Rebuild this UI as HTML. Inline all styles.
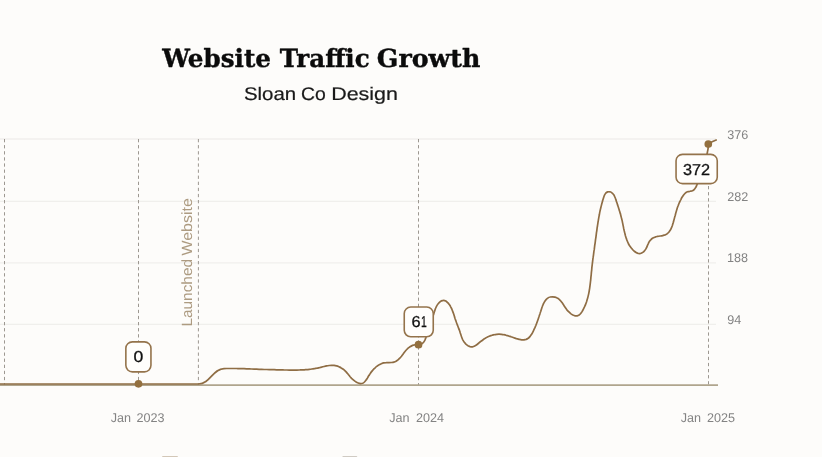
<!DOCTYPE html>
<html lang="en">
<head>
<meta charset="utf-8">
<title>Website Traffic Growth</title>
<style>
html,body{margin:0;padding:0;background:#fdfcfa;overflow:hidden}
body{width:822px;height:457px}
svg{display:block;will-change:transform}
text{font-family:"Liberation Sans",sans-serif;text-rendering:geometricPrecision}
.title{font-family:"DejaVu Serif","Liberation Serif",serif;font-weight:700;font-size:25px;fill:#0b0b0b;stroke:#0b0b0b;stroke-width:.4px;stroke-linejoin:round}
.sub{font-size:18.3px;fill:#1a1a1a;stroke:#1a1a1a;stroke-width:.2px}
.tick{font-size:12.6px;fill:#838383}
.lab{font-size:15.8px;fill:#111;font-weight:400;stroke:#111;stroke-width:.3px}
.anno{font-size:14.8px;fill:#ad9b81}
</style>
</head>
<body>
<svg width="822" height="457" viewBox="0 0 822 457">
<rect width="822" height="457" fill="#fdfcfa"/>
<line x1="0" x2="716" y1="139.0" y2="139.0" stroke="#f0efec" stroke-width="1.3"/>
<line x1="0" x2="716" y1="201.3" y2="201.3" stroke="#f0efec" stroke-width="1.3"/>
<line x1="0" x2="716" y1="262.9" y2="262.9" stroke="#f0efec" stroke-width="1.3"/>
<line x1="0" x2="716" y1="324.4" y2="324.4" stroke="#f0efec" stroke-width="1.3"/>
<line x1="4.5" x2="4.5" y1="139.0" y2="385" stroke="#9d9891" stroke-width="1" stroke-dasharray="3.3 2.8"/>
<line x1="138.5" x2="138.5" y1="139.0" y2="385" stroke="#9d9891" stroke-width="1" stroke-dasharray="3.3 2.8"/>
<line x1="198.4" x2="198.4" y1="139.0" y2="385" stroke="#9d9891" stroke-width="1" stroke-dasharray="3.3 2.8"/>
<line x1="418.5" x2="418.5" y1="139.0" y2="385" stroke="#9d9891" stroke-width="1" stroke-dasharray="3.3 2.8"/>
<line x1="708.5" x2="708.5" y1="186.0" y2="385" stroke="#9d9891" stroke-width="1" stroke-dasharray="3.3 2.8"/>
<line x1="0" x2="718" y1="385.2" y2="385.2" stroke="#afa58d" stroke-width="1.8"/>
<path d="M-2 384.0 L198.5 384.0C210 384.0 213 368.6 224 368.6C224.4 368.6 225.7 368.6 226.5 368.5C227.4 368.5 228.2 368.5 229.0 368.5C229.9 368.5 230.7 368.5 231.5 368.5C232.4 368.5 233.2 368.5 234.1 368.5C234.9 368.5 235.7 368.5 236.6 368.5C237.4 368.5 238.2 368.6 239.1 368.6C239.9 368.6 240.7 368.6 241.6 368.7C242.4 368.7 243.3 368.7 244.1 368.7C244.9 368.8 245.8 368.8 246.6 368.8C247.4 368.9 248.3 368.9 249.1 368.9C249.9 369.0 250.8 369.0 251.6 369.0C252.5 369.1 253.3 369.1 254.1 369.1C255.0 369.2 255.8 369.2 256.6 369.2C257.5 369.3 258.3 369.3 259.1 369.3C260.0 369.3 260.8 369.4 261.7 369.4C262.5 369.4 263.3 369.4 264.2 369.5C265.0 369.5 265.8 369.5 266.7 369.5C267.5 369.6 268.4 369.6 269.2 369.6C270.0 369.6 270.9 369.7 271.7 369.7C272.5 369.7 273.4 369.7 274.2 369.7C275.1 369.8 275.9 369.8 276.7 369.8C277.6 369.8 278.4 369.8 279.2 369.9C280.1 369.9 280.9 369.9 281.8 369.9C282.6 369.9 283.4 370.0 284.3 370.0C285.1 370.0 285.9 370.0 286.8 370.0C287.6 370.0 288.5 370.0 289.3 370.1C290.1 370.1 291.0 370.1 291.8 370.1C292.6 370.1 293.5 370.1 294.3 370.1C295.1 370.1 296.0 370.1 296.8 370.1C297.7 370.0 298.5 370.0 299.3 370.0C300.2 370.0 301.0 369.9 301.8 369.9C302.7 369.9 303.5 369.8 304.3 369.8C305.2 369.7 306.0 369.7 306.8 369.6C307.7 369.5 308.5 369.4 309.3 369.3C310.1 369.3 311.0 369.2 311.8 369.0C312.6 368.9 313.5 368.8 314.3 368.7C315.1 368.5 316.0 368.4 316.8 368.2C317.6 368.1 318.4 367.9 319.3 367.7C320.1 367.5 320.9 367.3 321.7 367.1C322.6 366.9 323.4 366.7 324.2 366.5C325.0 366.3 325.9 366.1 326.7 365.9C327.5 365.8 328.3 365.6 329.2 365.5C330.0 365.4 330.8 365.3 331.6 365.3C332.5 365.3 333.3 365.3 334.1 365.4C334.9 365.5 335.8 365.7 336.6 365.9C337.4 366.1 338.2 366.4 339.0 366.7C339.7 367.1 340.5 367.4 341.2 367.9C341.9 368.3 342.6 368.7 343.3 369.2C344.0 369.7 344.6 370.3 345.1 370.8C345.7 371.4 346.3 372.0 346.8 372.6C347.3 373.2 347.8 373.9 348.3 374.5C348.9 375.2 349.4 375.8 349.9 376.5C350.5 377.1 351.0 377.7 351.6 378.4C352.2 379.0 352.9 379.6 353.6 380.2C354.3 380.8 355.1 381.3 355.8 381.8C356.6 382.3 357.4 382.7 358.2 383.0C359.0 383.3 359.8 383.5 360.6 383.6C361.3 383.6 362.0 383.5 362.7 383.3C363.3 383.0 363.9 382.6 364.5 382.0C365.0 381.5 365.6 380.8 366.1 380.1C366.6 379.4 367.0 378.6 367.5 377.9C368.0 377.1 368.4 376.3 368.9 375.6C369.4 374.8 369.8 374.1 370.3 373.4C370.8 372.7 371.3 372.0 371.8 371.4C372.3 370.7 372.9 370.1 373.4 369.5C374.0 368.9 374.5 368.3 375.1 367.8C375.7 367.2 376.4 366.7 377.0 366.2C377.7 365.7 378.3 365.2 379.1 364.8C379.8 364.4 380.5 364.0 381.3 363.7C382.1 363.4 382.9 363.1 383.7 362.9C384.5 362.8 385.4 362.7 386.3 362.7C387.1 362.6 388.0 362.6 388.9 362.6C389.8 362.6 390.7 362.6 391.5 362.5C392.4 362.5 393.2 362.4 393.9 362.1C394.7 361.9 395.4 361.6 396.1 361.2C396.8 360.8 397.4 360.4 398.0 359.9C398.7 359.3 399.2 358.7 399.8 358.1C400.4 357.5 400.9 356.9 401.5 356.2C402.0 355.5 402.5 354.8 403.1 354.1C403.6 353.4 404.1 352.7 404.6 352.0C405.2 351.3 405.7 350.6 406.3 350.0C406.9 349.4 407.5 348.8 408.1 348.2C408.7 347.7 409.3 347.2 410.0 346.7C410.7 346.3 411.4 345.9 412.1 345.6C412.9 345.3 413.6 345.1 414.5 344.9C415.3 344.7 416.2 344.7 417.0 344.6C417.9 344.5 418.8 344.5 419.6 344.4C420.4 344.2 421.2 344.1 421.9 343.7C422.5 343.4 423.1 342.8 423.6 342.2C424.1 341.6 424.5 340.8 424.9 340.1C425.2 339.3 425.6 338.4 425.9 337.6C426.2 336.7 426.5 335.9 426.7 335.0C427.0 334.2 427.3 333.4 427.6 332.6C427.9 331.8 428.1 331.0 428.4 330.2C428.7 329.4 428.9 328.6 429.2 327.9C429.5 327.1 429.7 326.3 430.0 325.6C430.2 324.8 430.5 324.1 430.8 323.3C431.0 322.5 431.3 321.8 431.5 321.0C431.8 320.2 432.0 319.5 432.3 318.7C432.5 317.9 432.8 317.1 433.0 316.3C433.3 315.5 433.5 314.7 433.8 313.8C434.0 313.0 434.3 312.1 434.6 311.3C434.8 310.4 435.1 309.6 435.4 308.7C435.8 307.9 436.1 307.1 436.5 306.3C436.9 305.6 437.3 304.8 437.8 304.2C438.2 303.5 438.8 302.9 439.4 302.3C440.0 301.8 440.6 301.3 441.3 300.9C442.1 300.6 442.9 300.3 443.6 300.3C444.4 300.3 445.1 300.6 445.8 301.0C446.5 301.4 447.1 302.1 447.7 302.7C448.3 303.3 448.9 304.0 449.3 304.6C449.8 305.3 450.3 306.0 450.7 306.8C451.1 307.5 451.4 308.3 451.8 309.0C452.1 309.8 452.4 310.6 452.7 311.4C453.0 312.2 453.3 313.0 453.6 313.8C453.9 314.6 454.1 315.4 454.4 316.2C454.6 317.1 454.9 317.9 455.1 318.7C455.4 319.5 455.7 320.3 456.0 321.1C456.2 321.9 456.5 322.7 456.8 323.5C457.1 324.3 457.4 325.0 457.7 325.8C458.0 326.6 458.3 327.3 458.6 328.1C458.9 328.9 459.2 329.7 459.5 330.4C459.7 331.2 460.0 332.0 460.2 332.8C460.5 333.6 460.7 334.4 461.0 335.1C461.2 335.9 461.5 336.7 461.8 337.5C462.1 338.3 462.4 339.0 462.8 339.8C463.2 340.5 463.6 341.3 464.1 342.0C464.6 342.7 465.3 343.4 465.9 344.1C466.6 344.7 467.3 345.3 468.0 345.7C468.8 346.1 469.6 346.5 470.3 346.7C471.1 346.9 471.8 346.9 472.5 346.8C473.3 346.7 474.0 346.4 474.7 346.0C475.4 345.7 476.1 345.2 476.8 344.7C477.5 344.2 478.2 343.6 478.9 343.0C479.6 342.4 480.2 341.8 480.9 341.3C481.7 340.7 482.4 340.2 483.1 339.7C483.8 339.2 484.5 338.7 485.3 338.3C486.0 337.8 486.7 337.4 487.5 337.0C488.2 336.7 489.0 336.3 489.7 336.0C490.5 335.7 491.2 335.5 492.0 335.2C492.8 335.0 493.5 334.8 494.3 334.7C495.1 334.5 495.9 334.4 496.7 334.3C497.4 334.2 498.2 334.2 499.0 334.2C499.8 334.2 500.6 334.2 501.4 334.3C502.2 334.4 503.0 334.5 503.8 334.7C504.6 334.8 505.4 335.0 506.2 335.3C507.1 335.5 507.9 335.7 508.7 336.0C509.5 336.3 510.4 336.5 511.2 336.8C512.1 337.1 512.9 337.4 513.8 337.7C514.6 338.0 515.5 338.3 516.4 338.6C517.2 338.8 518.1 339.1 519.0 339.3C519.9 339.5 520.7 339.7 521.6 339.8C522.4 339.9 523.2 339.9 524.0 339.9C524.8 339.8 525.5 339.6 526.2 339.4C526.9 339.1 527.6 338.7 528.2 338.3C528.8 337.8 529.4 337.2 529.9 336.6C530.4 336.0 530.9 335.3 531.4 334.6C531.8 333.9 532.3 333.1 532.7 332.3C533.1 331.6 533.5 330.8 533.8 330.0C534.2 329.3 534.5 328.5 534.9 327.7C535.2 327.0 535.5 326.2 535.8 325.5C536.1 324.7 536.4 324.0 536.7 323.2C537.0 322.5 537.3 321.7 537.5 321.0C537.8 320.2 538.1 319.5 538.3 318.7C538.6 317.9 538.8 317.1 539.1 316.3C539.3 315.6 539.6 314.8 539.9 313.9C540.1 313.1 540.4 312.3 540.7 311.5C540.9 310.6 541.2 309.8 541.5 308.9C541.8 308.0 542.1 307.1 542.4 306.3C542.7 305.4 543.1 304.6 543.5 303.7C543.8 302.9 544.2 302.1 544.7 301.4C545.2 300.7 545.6 300.0 546.2 299.5C546.7 298.9 547.3 298.3 548.0 297.9C548.6 297.5 549.3 297.2 550.1 297.0C550.8 296.8 551.7 296.8 552.5 296.8C553.3 296.8 554.2 296.9 555.0 297.1C555.7 297.3 556.5 297.6 557.2 298.0C557.9 298.3 558.6 298.8 559.2 299.3C559.8 299.8 560.3 300.4 560.8 301.0C561.3 301.6 561.8 302.3 562.3 302.9C562.7 303.6 563.2 304.4 563.7 305.1C564.1 305.8 564.6 306.6 565.1 307.3C565.6 308.1 566.1 308.8 566.7 309.6C567.3 310.3 567.9 311.0 568.6 311.7C569.3 312.4 570.0 313.0 570.7 313.6C571.4 314.1 572.2 314.6 572.9 315.0C573.7 315.4 574.4 315.7 575.1 315.8C575.8 316.0 576.6 316.0 577.2 315.9C577.9 315.7 578.5 315.4 579.1 315.0C579.6 314.6 580.2 314.1 580.7 313.5C581.2 312.9 581.7 312.2 582.2 311.4C582.6 310.7 583.0 309.9 583.4 309.1C583.8 308.3 584.2 307.5 584.6 306.7C584.9 306.0 585.3 305.2 585.6 304.4C585.9 303.6 586.2 302.8 586.5 301.9C586.7 301.1 587.0 300.3 587.2 299.5C587.5 298.7 587.7 297.9 587.9 297.1C588.1 296.3 588.3 295.5 588.5 294.6C588.7 293.8 588.9 293.0 589.0 292.2C589.2 291.4 589.3 290.5 589.4 289.7C589.6 288.9 589.7 288.1 589.8 287.2C589.9 286.4 590.0 285.6 590.1 284.8C590.2 283.9 590.3 283.1 590.4 282.3C590.5 281.4 590.6 280.6 590.7 279.8C590.8 279.0 590.9 278.1 590.9 277.3C591.0 276.5 591.1 275.6 591.2 274.8C591.3 274.0 591.3 273.1 591.4 272.3C591.5 271.5 591.6 270.6 591.7 269.8C591.8 269.0 591.8 268.2 591.9 267.3C592.0 266.5 592.1 265.7 592.2 264.8C592.3 264.0 592.4 263.2 592.5 262.3C592.6 261.5 592.7 260.7 592.8 259.9C592.9 259.0 593.0 258.2 593.1 257.4C593.3 256.5 593.4 255.7 593.5 254.9C593.6 254.0 593.7 253.2 593.8 252.4C593.9 251.6 594.0 250.7 594.2 249.9C594.3 249.1 594.4 248.2 594.5 247.4C594.6 246.6 594.7 245.7 594.8 244.9C595.0 244.1 595.1 243.2 595.2 242.4C595.3 241.6 595.4 240.7 595.5 239.9C595.6 239.1 595.8 238.2 595.9 237.4C596.0 236.6 596.1 235.7 596.2 234.9C596.3 234.1 596.4 233.2 596.5 232.4C596.7 231.6 596.8 230.7 596.9 229.9C597.0 229.1 597.1 228.2 597.2 227.4C597.4 226.6 597.5 225.7 597.6 224.9C597.7 224.1 597.9 223.3 598.0 222.4C598.1 221.6 598.3 220.8 598.4 220.0C598.5 219.1 598.7 218.3 598.8 217.5C599.0 216.7 599.1 215.9 599.3 215.0C599.4 214.2 599.6 213.4 599.7 212.6C599.9 211.8 600.1 211.0 600.2 210.2C600.4 209.4 600.6 208.6 600.8 207.8C601.0 207.0 601.2 206.2 601.4 205.4C601.6 204.6 601.8 203.8 602.0 203.0C602.2 202.2 602.5 201.4 602.7 200.5C602.9 199.7 603.2 198.8 603.5 197.9C603.8 197.1 604.0 196.1 604.4 195.3C604.8 194.6 605.2 193.8 605.7 193.2C606.3 192.6 607.0 192.1 607.7 191.9C608.4 191.7 609.2 191.7 610.0 191.8C610.7 192.0 611.4 192.4 612.0 192.9C612.7 193.3 613.2 194.0 613.6 194.6C614.1 195.3 614.5 196.1 614.8 196.9C615.2 197.7 615.5 198.5 615.8 199.4C616.1 200.2 616.3 201.1 616.6 201.9C616.9 202.8 617.2 203.6 617.4 204.4C617.7 205.2 617.9 206.0 618.2 206.8C618.5 207.6 618.7 208.4 619.0 209.2C619.2 210.0 619.4 210.7 619.7 211.5C619.9 212.3 620.1 213.1 620.4 213.8C620.6 214.6 620.8 215.4 621.0 216.2C621.2 217.0 621.4 217.7 621.6 218.5C621.8 219.3 622.0 220.1 622.2 220.9C622.4 221.8 622.5 222.6 622.7 223.4C622.9 224.2 623.0 225.1 623.2 225.9C623.4 226.8 623.5 227.6 623.7 228.5C623.9 229.3 624.1 230.1 624.3 231.0C624.5 231.8 624.6 232.7 624.9 233.5C625.1 234.3 625.3 235.2 625.5 236.0C625.8 236.8 626.0 237.6 626.3 238.4C626.6 239.2 626.8 240.0 627.2 240.8C627.5 241.6 627.8 242.3 628.2 243.1C628.5 243.8 628.9 244.6 629.3 245.3C629.8 246.0 630.2 246.6 630.7 247.3C631.2 248.0 631.7 248.6 632.3 249.2C632.8 249.8 633.4 250.4 634.0 251.0C634.7 251.5 635.4 252.1 636.1 252.5C636.8 252.9 637.5 253.3 638.3 253.5C639.0 253.6 639.8 253.7 640.5 253.5C641.3 253.3 642.1 252.9 642.8 252.4C643.5 251.9 644.2 251.2 644.7 250.5C645.3 249.8 645.8 249.0 646.2 248.3C646.7 247.5 647.0 246.7 647.3 245.9C647.7 245.1 647.9 244.3 648.3 243.6C648.6 242.8 649.0 242.1 649.4 241.4C649.9 240.8 650.4 240.1 651.0 239.6C651.5 239.0 652.2 238.5 652.9 238.1C653.6 237.7 654.4 237.3 655.1 237.1C655.9 236.8 656.8 236.6 657.6 236.4C658.5 236.2 659.3 236.1 660.2 236.0C661.0 235.9 661.9 235.8 662.7 235.6C663.5 235.4 664.3 235.2 665.1 234.9C665.8 234.6 666.5 234.3 667.1 233.8C667.7 233.4 668.3 232.9 668.8 232.3C669.3 231.7 669.7 231.0 670.2 230.3C670.6 229.6 671.0 228.9 671.3 228.1C671.7 227.3 672.0 226.5 672.3 225.7C672.6 224.8 672.8 223.9 673.1 223.1C673.4 222.2 673.6 221.4 673.8 220.5C674.1 219.6 674.3 218.8 674.5 217.9C674.7 217.1 674.9 216.3 675.2 215.5C675.4 214.6 675.6 213.8 675.8 213.0C676.1 212.2 676.3 211.4 676.5 210.6C676.7 209.8 677.0 209.1 677.2 208.3C677.5 207.5 677.7 206.7 678.0 206.0C678.3 205.2 678.6 204.5 678.9 203.7C679.2 203.0 679.5 202.2 679.9 201.5C680.2 200.8 680.6 200.0 681.0 199.3C681.3 198.6 681.7 197.8 682.2 197.1C682.6 196.4 683.1 195.7 683.6 195.0C684.1 194.3 684.7 193.6 685.3 193.1C685.9 192.6 686.6 192.1 687.4 191.8C688.1 191.5 689.0 191.4 689.9 191.3C690.7 191.1 691.7 191.1 692.4 190.8C693.1 190.5 693.8 190.0 694.3 189.4C694.9 188.9 695.3 188.1 695.7 187.4C696.2 186.7 696.5 185.9 696.8 185.1C697.2 184.4 697.5 183.6 697.7 182.8C698.0 182.0 698.3 181.2 698.5 180.4C698.8 179.6 699.0 178.8 699.2 178.0C699.5 177.1 699.7 176.3 699.9 175.5C700.2 174.7 700.4 173.9 700.6 173.1C700.9 172.3 701.2 171.5 701.4 170.7C701.7 169.9 702.0 169.1 702.3 168.3C702.6 167.5 702.8 166.7 703.1 166.0C703.4 165.2 703.7 164.4 704.0 163.6C704.3 162.8 704.5 162.0 704.8 161.2C705.1 160.4 705.4 159.7 705.6 158.9C705.9 158.1 706.1 157.3 706.3 156.5C706.6 155.7 706.8 154.9 707.0 154.1C707.2 153.3 707.4 152.4 707.5 151.6C707.7 150.8 707.9 150.0 708.0 149.2C708.1 148.3 708.2 147.5 708.3 146.6C708.3 145.8 708.4 144.5 708.4 144.1Q711.5 141.6 716.8 139.8" fill="none" stroke="#8f6d44" stroke-width="1.7" stroke-linejoin="round" stroke-linecap="butt"/>
<circle cx="138.5" cy="383.8" r="3.85" fill="#93703f"/>
<circle cx="418.5" cy="344.7" r="3.85" fill="#93703f"/>
<circle cx="708.3" cy="144.1" r="3.85" fill="#93703f"/>
<rect x="125.85" y="341.85" width="25.10" height="30.00" rx="6.5" ry="6.5" fill="#fffefc" stroke="#94734b" stroke-width="1.6"/>
<rect x="404.25" y="307.05" width="29.00" height="29.70" rx="6.5" ry="6.5" fill="#fffefc" stroke="#94734b" stroke-width="1.6"/>
<rect x="676.05" y="154.35" width="41.20" height="29.30" rx="6.5" ry="6.5" fill="#fffefc" stroke="#94734b" stroke-width="1.6"/>
<text x="133.6" y="362.1" textLength="9.8" lengthAdjust="spacingAndGlyphs" class="lab">0</text>
<text y="327.1" class="lab"><tspan x="411.5" textLength="9.1" lengthAdjust="spacingAndGlyphs">6</tspan><tspan x="420.9" textLength="5.8" lengthAdjust="spacingAndGlyphs">1</tspan></text>
<text x="682.9" y="174.6" textLength="27.1" lengthAdjust="spacingAndGlyphs" class="lab">372</text>
<text x="727.2" y="139.3" class="tick">376</text>
<text x="727.2" y="200.8" class="tick">282</text>
<text x="726.9" y="262.3" class="tick">188</text>
<text x="727.3" y="324.0" class="tick">94</text>
<text y="421.6" class="tick"><tspan x="110.8">Jan</tspan> <tspan x="136.6">2023</tspan></text>
<text y="421.6" class="tick"><tspan x="389.3">Jan</tspan> <tspan x="415.9">2024</tspan></text>
<text y="421.6" class="tick"><tspan x="680.8">Jan</tspan> <tspan x="706.9">2025</tspan></text>
<g transform="translate(191.8 325.8) rotate(-90)"><text y="0.0" class="anno"><tspan x="-0.8" textLength="67.6" lengthAdjust="spacingAndGlyphs">Launched</tspan> <tspan x="70.2" textLength="57.4" lengthAdjust="spacingAndGlyphs">Website</tspan></text></g>
<text y="67.4" class="title"><tspan x="162.2" textLength="108.8" lengthAdjust="spacingAndGlyphs">Website</tspan> <tspan x="279.8" textLength="89.8" lengthAdjust="spacingAndGlyphs">Traffic</tspan> <tspan x="376.8" textLength="103.6" lengthAdjust="spacingAndGlyphs">Growth</tspan></text>
<text y="99.9" class="sub"><tspan x="243.9" textLength="52.3" lengthAdjust="spacingAndGlyphs">Sloan</tspan> <tspan x="300.9" textLength="24.8" lengthAdjust="spacingAndGlyphs">Co</tspan> <tspan x="331.2" textLength="66.8" lengthAdjust="spacingAndGlyphs">Design</tspan></text>
<rect x="162" y="456.1" width="16" height="4" rx="1" fill="#d3c7b7"/>
<rect x="342.3" y="456.1" width="15" height="4" rx="1" fill="#d0cbc3"/>
</svg>
</body>
</html>
